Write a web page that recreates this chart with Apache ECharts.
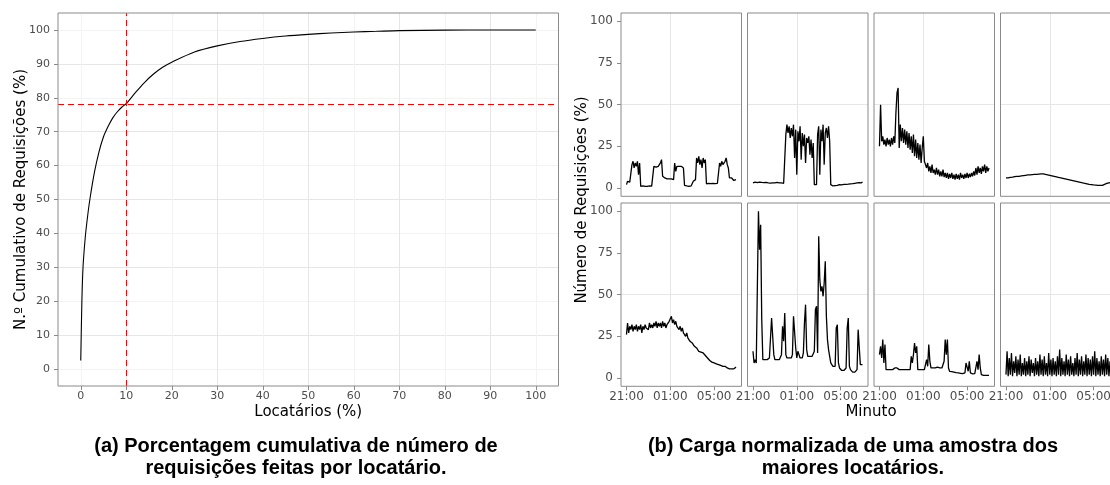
<!DOCTYPE html>
<html><head><meta charset="utf-8">
<script src="https://cdn.jsdelivr.net/npm/echarts@6/dist/echarts.min.js"></script>
<style>html,body{margin:0;padding:0;background:#fff}#c{width:1110px;height:485px}</style>
</head><body><div id="c"></div>
<script>
// ---------- (a) cumulative curve ----------
const cdfX = [0,0.25,0.5,1,1.5,2,3,4,5,6,7,8,9,10,12,14,16,18,20,25,30,35,40,45,50,55,60,65,70,80,90,100];
const cdfY = [2.5,20,30,39,45,50,58,64,68.5,71.5,74,75.8,77.2,78.3,81.5,84.5,87,89,90.5,93.5,95.3,96.6,97.5,98.2,98.7,99.1,99.4,99.6,99.8,99.95,100,100];
const cutX = 10;
const cutY = 78.2;
const cdfTicks = [0,10,20,30,40,50,60,70,80,90,100];

// ---------- (b) normalized load, one sample every 0.1 h from 21:00 ----------
const sampleStepHours = 0.1;
const load1 = [2,4,4,3.5,4.5,14,16,12,15,13, 16,8,15,1,1,1.2,0.8,1,1.3,0.9, 1,1.2,0.9,1.1,1,13,12,12.5,12,13,
  14,15,17,7,6.5,6,6,5.5,6,5.5, 5,5.5,5,5,15,10,13,12,13,12, 13,12.5,12,1.5,1.5,1.2,1.5,1,1.5,1.2,
  1.5,4,4.5,5,18,15,19,14,17,12, 18,15,17,2.5,2.5,2.8,2.4,2.6,2.5,2.7, 2.4,2.6,2.5,2.8,2.6,15,13,16,14,15,
  16,18,14,12,6,5,6,5,4.5,5.5, 5];
const load2 = [3,2.5,3.5,3,3.2,2.8,3.5,3,3.3,2.8, 3.2,3,3.4,2.9,3.1,3.3,2.9,3.2,3,2.8, 3.1,3,3.3,2.9,3.1,2.8,3,3.2,2.8,3,
  32,38,33,37,30,36,31,38,18,35, 8,34,28,37,17,33,25,32,15,30, 27,31,20,29,18,27,2,1.5,2,32,
  37,8,35,28,38,14,33,36,30,37, 28,2,1.5,1.2,1.6,1.4,1.8,1.5,1.7,2, 1.6,1.9,1.7,2.1,1.9,2.2,2,2.3,2.1,2.5,
  2.3,2.6,2.4,2.8,2.6,3,2.8,3.2,3.5,3.1, 3.6];
const load3 = [25,50,28,31,26,29,25,30,26,29, 25,30,26,31,27,45,57,60,24,38, 28,36,27,35,26,34,24,33,23,31,
  21,32,19,29,18,27,17,26,15,24, 31,16,14,12,15,10,13,9,14,9, 11,8,12,8,11,7,10,7,11,6.5,
  9,6,9,5.5,8.5,6,9,5.5,8,5, 8.5,5.5,8,5,9,6,8,5.5,8.5,6, 9,6,8.5,6.5,9,7,10,7.5,12,8,
  13,9,12,8.5,13,10,14,9,13,10, 12];
const load4 = [6,6.8,6,7,6.3,7.2,6.5,7.4,6.8,7.5, 7,7.8,7,7.9,7.2,8.1,7.4,8.3,7.6,8.5, 7.8,8.6,7.9,8.8,8,8.9,8.1,9,8.2,9.1,
  8.3,9.2,8.4,9,8.5,9.1,8.2,8.8,7.9,8.5, 7.6,8.2,7.3,7.9,7,7.6,6.7,7.3,6.3,6.9, 6,6.6,5.7,6.3,5.4,6,5.1,5.7,4.8,5.4,
  4.5,5.1,4.2,4.8,3.9,4.5,3.6,4.2,3.3,3.9, 3,3.6,2.8,3.3,2.5,3.1,2.2,2.8,2,2.6, 1.8,2.4,1.7,2.2,1.6,2.1,1.5,2,1.6,2.6,
  2.2,3.1,2.7,3.5,3.1,3.7,3.3,3.9,3.5,4.1, 3.7];
const load5 = [26,33,27,31,29,32,28,31,29,32, 28,31,29,32,27,31,29,32,30,31, 29,33,30,32,30,33,31,34,30,33,
  31,33,30,34,31,33,30,32,31,34, 35,37,33,35,32,34,31,32,29,31, 28,30,27,28,25,27,24,25,22,23,
  21,22,19,20,18,19,16,17,15.5,16.5, 15,16,13.5,14,12,12.5,10.5,11,9.5,10.5, 9,10,8.5,9.5,8,9,7.5,8.5,7,8,
  7,7.5,6,7,5.5,6.5,5.5,6.5,5.5,6.5, 6.5];
const load6 = [16,9,11,9,10,100,77,92,35,11, 10,11,10,11,10,12,11,36,37,14, 11,12,11,12,11,12,14,31,22,39,
  14,12,13,12,11,12,14,37,38,18, 12,16,14,12,13,12,15,33,44,17, 13,12,13,12,13,14,16,41,43,15,
  85,59,52,55,49,57,70,37,23,17, 13,9,8,7,6,7,30,32,9,6, 5,4.5,5,4.5,5,6,30,36,7,5,
  4,3.5,4,3.5,4,5,29,29,8,9, 8];
const load7 = [14,19,12,23,9,20,5,4.5,5,4.5, 5,5.5,5,5.5,6,5.5,6,5.5,5,4.5, 5,4.5,5,4.5,5,4.5,5,4.5,5,13,
  9,14,21,15,19,5,4.5,5,4.5,5, 6,5,6,11,7,20,10,6,5,6, 5,6,5.5,6.5,5.5,6,5.5,6,7,10,
  23,14,23,6,4,4,3.8,3.5,3.5,3.3, 3.2,3,3,2.8,2.8,2.6,2.6,2.5,3,9, 10,4,10,3,2.5,2.5,2.4,2.6,2.5,10,
  5,14,6,2,1.8,1.6,1.8,1.5,1.7,1.6, 1.5];
const load8 = [2,16,1,12,2,15,1,10,3,13, 1,11,2,14,1,9,2,12,1,10, 2,13,1,11,3,9,1,12,2,10,
  1,14,2,11,1,13,2,9,1,15, 2,11,1,12,2,10,1,13,2,17, 1,12,2,10,1,14,2,11,1,13,
  2,9,1,12,2,15,1,11,2,13, 1,10,2,14,1,12,2,11,1,13, 2,16,1,12,2,10,1,13,2,11,
  1,14,2,12,1,10,2,13,1,11, 2];
const loadPanels = [load1, load2, load3, load4, load5, load6, load7, load8];
const timeTickHours = [0, 4, 8];
const timeTickLabels = ['21:00', '01:00', '05:00'];
const loadTicks = [0, 25, 50, 75, 100];

const titleA_x = 'Locatários (%)';
const titleA_y = 'N.º Cumulativo de Requisições (%)';
const titleB_x = 'Minuto';
const titleB_y = 'Número de Requisições (%)';
const captionA = '(a) Porcentagem cumulativa de número de\nrequisições feitas por locatário.';
const captionB = '(b) Carga normalizada de uma amostra dos\nmaiores locatários.';

// ---------- styling ----------
const BORDER = '#8a8a8a';
const MAJOR = '#e6e6e6';
const MINOR = '#f3f3f3';
const T = 'rgba(0,0,0,0)';
const FONT = 'DejaVu Sans';
const tickLabelA = {fontFamily: FONT, fontSize: 11, color: '#4d4d4d'};
const tickLabelB = {fontFamily: FONT, fontSize: 12, color: '#4d4d4d'};

const grids = [{left: 58, top: 13, width: 500.5, height: 373}];
const xAxes = [{
  type: 'value', gridIndex: 0, min: -5, max: 105, interval: 5, position: 'bottom',
  axisLine: {show: false, onZero: false},
  axisTick: {show: true, customValues: cdfTicks, length: 4, lineStyle: {color: BORDER}},
  axisLabel: Object.assign({customValues: cdfTicks, margin: 5}, tickLabelA),
  splitLine: {show: true, lineStyle: {color: [MINOR, MAJOR], width: 1}},
  name: titleA_x, nameLocation: 'middle', nameGap: 19, nameMoveOverlap: false,
  nameTextStyle: {fontFamily: FONT, fontSize: 15, color: '#000'}
}];
const yAxes = [{
  type: 'value', gridIndex: 0, min: -5, max: 105, interval: 5, position: 'left',
  axisLine: {show: false, onZero: false},
  axisTick: {show: true, customValues: cdfTicks, length: 4, lineStyle: {color: BORDER}},
  axisLabel: Object.assign({customValues: cdfTicks, margin: 8}, tickLabelA),
  splitLine: {show: true, lineStyle: {color: [MINOR, MAJOR], width: 1}},
  name: titleA_y, nameLocation: 'middle', nameGap: 29, nameMoveOverlap: false,
  nameTextStyle: {fontFamily: FONT, fontSize: 15, color: '#000'}
}];
const series = [{
  type: 'line', xAxisIndex: 0, yAxisIndex: 0,
  data: cdfX.map((x, i) => [x, cdfY[i]]),
  showSymbol: false, smooth: 0.3,
  lineStyle: {color: '#000', width: 1.1},
  markLine: {
    silent: true, symbol: ['none', 'none'], label: {show: false},
    lineStyle: {color: '#ff0000', type: [6, 4], width: 1},
    emphasis: {disabled: true},
    data: [{xAxis: cutX}, {yAxis: cutY}]
  }
}];

const colLeft = [621, 747.5, 874, 1000.5];
const rowTop = [13, 203];
const panelW = 120.5, panelH = 183.3;
function timeLabel(v) {
  const i = timeTickHours.findIndex(h => Math.abs(h - v) < 1e-6);
  return i < 0 ? '' : timeTickLabels[i];
}
loadPanels.forEach((vals, p) => {
  const row = Math.floor(p / 4), col = p % 4, g = p + 1;
  const bottom = row === 1, left = col === 0;
  grids.push({left: colLeft[col], top: rowTop[row], width: panelW, height: panelH});
  xAxes.push({
    type: 'value', gridIndex: g, min: -0.5, max: 10.5, interval: 0.5, position: 'bottom',
    axisLine: {show: false, onZero: false},
    axisTick: {show: bottom, customValues: timeTickHours, length: 4, lineStyle: {color: BORDER}},
    axisLabel: Object.assign({show: bottom, customValues: timeTickHours, formatter: timeLabel, margin: 5}, tickLabelB),
    splitLine: {show: true, lineStyle: {color: [T, MAJOR, T, T, T, MINOR, T, T], width: 1}}
  });
  yAxes.push({
    type: 'value', gridIndex: g, min: -5, max: 105, interval: 2.5, position: 'left',
    axisLine: {show: false, onZero: false},
    axisTick: {show: left, customValues: loadTicks, length: 4, lineStyle: {color: BORDER}},
    axisLabel: Object.assign({show: left, customValues: loadTicks, margin: 8}, tickLabelB),
    splitLine: {show: true, lineStyle: {color: [T, T, MAJOR, T, T, T, T, MINOR, T, T], width: 1}}
  });
  series.push({
    type: 'line', xAxisIndex: g, yAxisIndex: g,
    data: vals.map((v, i) => [i * sampleStepHours, v]),
    showSymbol: false, lineStyle: {color: '#000', width: 1.3}
  });
});
grids.forEach(gr => Object.assign(gr, {show: true, z: 10, backgroundColor: 'transparent', borderColor: BORDER, borderWidth: 1, containLabel: false, outerBoundsMode: 'none'}));

const chart = echarts.init(document.getElementById('c'), null, {renderer: 'canvas'});
chart.setOption({
  animation: false,
  backgroundColor: '#fff',
  textStyle: {fontFamily: FONT},
  grid: grids, xAxis: xAxes, yAxis: yAxes, series: series,
  graphic: [
    {type: 'text', x: 582, y: 200, rotation: Math.PI / 2, silent: true,
     style: {text: titleB_y, font: '15px "DejaVu Sans"', fill: '#000', align: 'center', verticalAlign: 'middle'}},
    {type: 'text', x: 871, y: 412, silent: true,
     style: {text: titleB_x, font: '15px "DejaVu Sans"', fill: '#000', align: 'center', verticalAlign: 'middle'}},
    {type: 'text', x: 296, y: 457, silent: true,
     style: {text: captionA, font: 'bold 20px "Liberation Sans"', fill: '#000', align: 'center', verticalAlign: 'middle', lineHeight: 22}},
    {type: 'text', x: 853, y: 457, silent: true,
     style: {text: captionB, font: 'bold 20px "Liberation Sans"', fill: '#000', align: 'center', verticalAlign: 'middle', lineHeight: 22}}
  ]
});
</script></body></html>
